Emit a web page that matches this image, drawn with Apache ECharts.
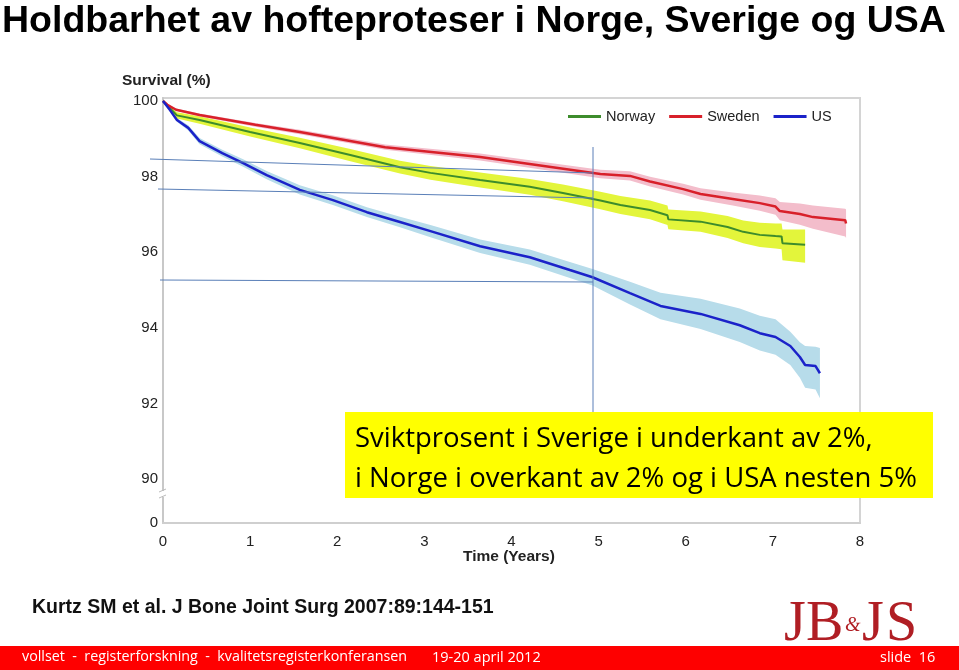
<!DOCTYPE html>
<html>
<head>
<meta charset="utf-8">
<title>Holdbarhet av hofteproteser</title>
<script src="https://cdn.jsdelivr.net/npm/echarts@6/dist/echarts.min.js"></script>
<style>
  html, body { margin: 0; padding: 0; background: #fff; }
  #chart { width: 959px; height: 670px; }
</style>
</head>
<body>
<div id="chart"></div>
<script>
// overlevelse (%), Kurtz et al.
const swedenYears = [0, 0.05, 0.15, 0.42, 1.06, 1.57, 2.55, 3.64, 5.02, 5.36, 5.59, 5.97, 6.17, 6.54, 6.85, 7.03, 7.08, 7.31, 7.46, 7.83, 7.84];
const swedenSurv  = [100, 99.90, 99.77, 99.63, 99.37, 99.18, 98.78, 98.52, 98.07, 98.02, 97.87, 97.67, 97.54, 97.41, 97.30, 97.21, 97.09, 97.01, 96.93, 96.85, 96.76];
const swedenLow   = [100, 99.88, 99.74, 99.59, 99.32, 99.12, 98.71, 98.43, 97.96, 97.90, 97.74, 97.53, 97.39, 97.24, 97.10, 96.99, 96.85, 96.73, 96.62, 96.42, 96.38];
const swedenHigh  = [100, 99.92, 99.80, 99.67, 99.42, 99.24, 98.85, 98.61, 98.18, 98.14, 98.00, 97.81, 97.69, 97.58, 97.50, 97.43, 97.33, 97.29, 97.24, 97.15, 97.13];

const norwayYears = [0, 0.16, 0.42, 1.00, 1.57, 2.15, 2.72, 3.07, 3.64, 4.21, 4.59, 5.02, 5.25, 5.59, 5.79, 5.80, 6.17, 6.48, 6.66, 6.85, 7.03, 7.10, 7.11, 7.37];
const norwaySurv  = [100, 99.62, 99.50, 99.18, 98.89, 98.57, 98.25, 98.10, 97.91, 97.73, 97.57, 97.37, 97.25, 97.12, 96.98, 96.87, 96.81, 96.67, 96.54, 96.46, 96.43, 96.42, 96.24, 96.20];
const norwayLow   = [100, 99.54, 99.40, 99.06, 98.75, 98.41, 98.08, 97.92, 97.71, 97.52, 97.35, 97.14, 97.01, 96.87, 96.72, 96.61, 96.54, 96.38, 96.24, 96.14, 96.10, 96.08, 95.79, 95.72];
const norwayHigh  = [100, 99.70, 99.60, 99.30, 99.03, 98.73, 98.42, 98.28, 98.11, 97.94, 97.79, 97.60, 97.49, 97.37, 97.24, 97.13, 97.08, 96.96, 96.84, 96.78, 96.76, 96.76, 96.60, 96.60];

const usYears = [0, 0.08, 0.16, 0.29, 0.42, 0.68, 0.92, 1.19, 1.57, 1.95, 2.34, 2.72, 3.07, 3.64, 4.21, 4.67, 4.93, 5.36, 5.71, 6.17, 6.62, 6.85, 7.03, 7.20, 7.31, 7.37, 7.49, 7.54];
const usSurv  = [100, 99.76, 99.50, 99.29, 98.94, 98.62, 98.36, 98.04, 97.65, 97.38, 97.06, 96.80, 96.56, 96.16, 95.87, 95.53, 95.34, 94.92, 94.58, 94.37, 94.07, 93.86, 93.76, 93.52, 93.23, 93.02, 92.99, 92.80];
const usLow   = [100, 99.73, 99.45, 99.22, 98.86, 98.53, 98.26, 97.93, 97.53, 97.25, 96.93, 96.66, 96.40, 95.98, 95.67, 95.32, 95.12, 94.62, 94.23, 93.97, 93.63, 93.40, 93.29, 93.02, 92.68, 92.42, 92.37, 92.14];
const usHigh  = [100, 99.79, 99.55, 99.36, 99.02, 98.71, 98.46, 98.15, 97.77, 97.51, 97.19, 96.94, 96.72, 96.34, 96.07, 95.74, 95.56, 95.22, 94.93, 94.77, 94.51, 94.32, 94.23, 93.90, 93.62, 93.52, 93.50, 93.47];

// brutt y-akse: nederste tikk vises som "0"
const yTickValues = [88.84, 90, 92, 94, 96, 98, 100];
const yTickLabels = ['0', '90', '92', '94', '96', '98', '100'];

const pair = (xs, ys) => xs.map((x, i) => [x, ys[i]]);

// konfidensbånd som polygon: øvre kant fram, nedre kant tilbake
function band(name, years, low, high, color) {
  return {
    name: name + '-band', type: 'custom', silent: true, z: 1,
    data: [[0, 100]],
    renderItem: (params, api) => {
      const pts = years.map((x, i) => api.coord([x, high[i]]));
      for (let i = years.length - 1; i >= 0; i--) pts.push(api.coord([years[i], low[i]]));
      return { type: 'polygon', shape: { points: pts }, style: { fill: color } };
    }
  };
}

function curve(name, years, surv, color, width) {
  return {
    name: name, type: 'line', symbol: 'none', z: 5,
    lineStyle: { color: color, width: width },
    itemStyle: { color: color },
    data: pair(years, surv)
  };
}

const myChart = echarts.init(document.getElementById('chart'));

const annColor = '#5a7fb8';
const font = 'Liberation Sans, Arial, sans-serif';

myChart.setOption({
  animation: false,
  backgroundColor: '#fff',
  grid: {
    left: 163, top: 98, width: 697, height: 425,
    show: true, borderColor: '#d4d4d4', borderWidth: 2
  },
  legend: {
    data: ['Norway', 'Sweden', 'US'],
    icon: 'rect',
    left: 563, top: 104,
    itemWidth: 33, itemHeight: 3, itemGap: 14,
    textStyle: { fontFamily: font, fontSize: 14.5, color: '#222' }
  },
  xAxis: {
    type: 'value', min: 0, max: 8, interval: 1,
    axisLine: { lineStyle: { color: '#cfcfcf', width: 2 } },
    axisTick: { show: false },
    splitLine: { show: false },
    axisLabel: { margin: 11, fontFamily: font, fontSize: 15, color: '#222' }
  },
  yAxis: {
    type: 'value', min: 88.84, max: 100.08,
    axisLine: { show: true, lineStyle: { color: '#c8c8c8', width: 2 } },
    axisTick: { show: false },
    splitLine: { show: false },
    axisLabel: {
      customValues: yTickValues,
      margin: 5, fontFamily: font, fontSize: 15, color: '#222',
      formatter: v => {
        const i = yTickValues.findIndex(t => Math.abs(t - v) < 0.01);
        return i >= 0 ? yTickLabels[i] : '';
      }
    }
  },
  series: [
    band('US', usYears, usLow, usHigh, '#b7dcea'),
    band('Norway', norwayYears, norwayLow, norwayHigh, '#e3f53b'),
    band('Sweden', swedenYears, swedenLow, swedenHigh, '#f3bdcb'),
    curve('Norway', norwayYears, norwaySurv, '#3d8c2c', 2),
    curve('Sweden', swedenYears, swedenSurv, '#d8202a', 2.5),
    curve('US', usYears, usSurv, '#1b22c9', 2.5)
  ],
  graphic: [
    // overskrift
    { type: 'text', left: 2, top: 3, z: 100,
      style: { text: 'Holdbarhet av hofteproteser i Norge, Sverige og USA',
        font: 'bold 37.5px ' + font, fill: '#000' } },
    { type: 'text', left: 122, top: 73, z: 100,
      style: { text: 'Survival (%)', font: 'bold 15.5px ' + font, fill: '#222' } },
    { type: 'text', left: 463, top: 549, z: 100,
      style: { text: 'Time (Years)', font: 'bold 15.5px ' + font, fill: '#222' } },
    // bruddmerke på y-aksen
    { type: 'rect', shape: { x: 158, y: 491, width: 10, height: 6 }, style: { fill: '#fff' }, z: 100 },
    { type: 'line', shape: { x1: 159, y1: 492, x2: 166, y2: 489 }, style: { stroke: '#bbb', lineWidth: 1 }, z: 100 },
    { type: 'line', shape: { x1: 159, y1: 498, x2: 166, y2: 495 }, style: { stroke: '#bbb', lineWidth: 1 }, z: 100 },
    // hjelpelinjer tegnet på lysbildet
    { type: 'line', shape: { x1: 150, y1: 159, x2: 593, y2: 173 }, style: { stroke: annColor, lineWidth: 1 }, z: 100 },
    { type: 'line', shape: { x1: 158, y1: 189, x2: 593, y2: 198 }, style: { stroke: annColor, lineWidth: 1 }, z: 100 },
    { type: 'line', shape: { x1: 160, y1: 280, x2: 593, y2: 282 }, style: { stroke: annColor, lineWidth: 1 }, z: 100 },
    { type: 'line', shape: { x1: 593, y1: 147, x2: 593, y2: 412 }, style: { stroke: annColor, lineWidth: 1 }, z: 100 },
    // gul boks
    { type: 'rect', shape: { x: 345, y: 412, width: 588, height: 86 }, style: { fill: '#ffff00' }, z: 110 },
    { type: 'text', left: 355, top: 419, z: 111,
      style: { text: 'Sviktprosent i Sverige i underkant av 2%,\ni Norge i overkant av 2% og i USA nesten 5%',
        font: '27.5px Open Sans, sans-serif', lineHeight: 40, fill: '#000' } },
    // referanse
    { type: 'text', left: 32, top: 598, z: 100,
      style: { text: 'Kurtz SM et al. J Bone Joint Surg 2007:89:144-151', font: 'bold 19.5px ' + font, fill: '#111' } },
    // JBJS-logo
    { type: 'text', left: 784, top: 597, z: 100,
      style: { text: 'J', font: '56px Liberation Serif, serif', fill: '#b01e24' } },
    { type: 'text', left: 806, top: 597, z: 100,
      style: { text: 'B', font: '56px Liberation Serif, serif', fill: '#b01e24' } },
    { type: 'text', left: 845, top: 616, z: 100,
      style: { text: '&', font: 'italic 20px Liberation Serif, serif', fill: '#b01e24' } },
    { type: 'text', left: 862, top: 597, z: 100,
      style: { text: 'J', font: '56px Liberation Serif, serif', fill: '#b01e24' } },
    { type: 'text', left: 886, top: 597, z: 100,
      style: { text: 'S', font: '56px Liberation Serif, serif', fill: '#b01e24' } },
    // rød bunnlinje
    { type: 'rect', shape: { x: 0, y: 646, width: 959, height: 24 }, style: { fill: '#fe0000' }, z: 100 },
    { type: 'text', left: 22, top: 650, z: 101,
      style: { text: 'vollset  -  registerforskning  -  kvalitetsregisterkonferansen', font: '14.3px Open Sans, sans-serif', fill: '#fff' } },
    { type: 'text', left: 432, top: 650, z: 101,
      style: { text: '19-20 april 2012', font: '14.5px Open Sans, sans-serif', fill: '#fff' } },
    { type: 'text', left: 880, top: 650, z: 101,
      style: { text: 'slide  16', font: '14.5px Open Sans, sans-serif', fill: '#fff' } }
  ]
});
</script>
</body>
</html>
